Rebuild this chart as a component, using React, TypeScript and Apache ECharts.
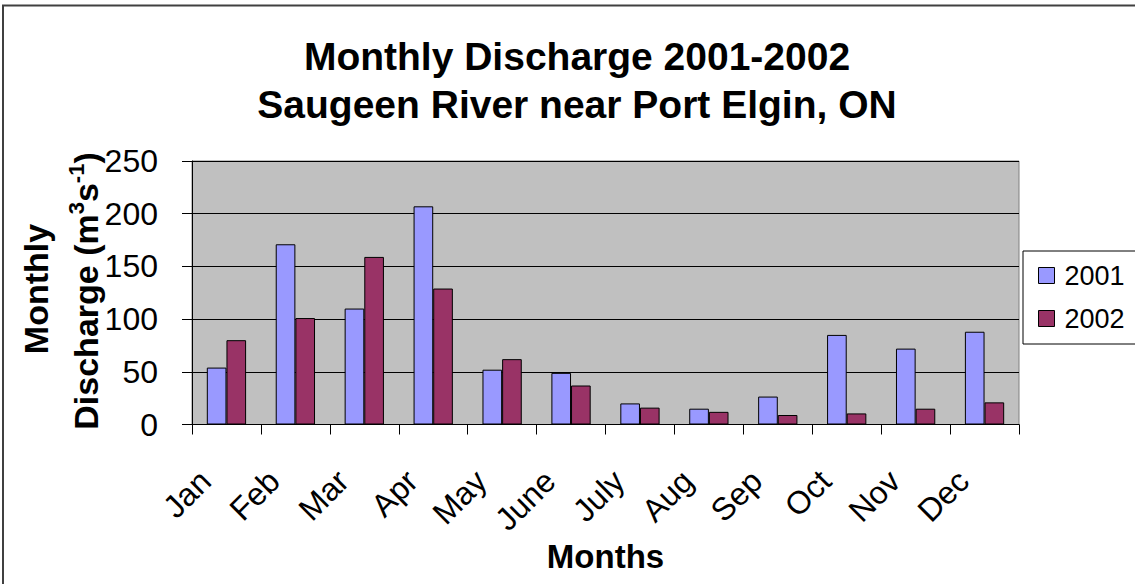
import React, { useEffect, useRef } from "react";
import * as echarts from "echarts";

const months = ["Jan", "Feb", "Mar", "Apr", "May", "June", "July", "Aug", "Sep", "Oct", "Nov", "Dec"];
const discharge2001 = [54, 171, 110, 207, 52, 49, 20, 15, 26.5, 85, 72, 88];
const discharge2002 = [80, 101, 159, 129, 62, 37, 16, 12, 9, 10.5, 15, 21];
const seriesNames = ["2001", "2002"];
const yTicks = { min: 0, max: 250, interval: 50 };

const FONT = "'Liberation Sans', Arial, sans-serif";

export default function App() {
  const ref = useRef<HTMLDivElement>(null);
  useEffect(() => {
    if (!ref.current) return;
    const chart = echarts.init(ref.current, null, { renderer: "svg" });
    chart.setOption({
      animation: false,
      backgroundColor: "#ffffff",
      title: {
        text: "Monthly Discharge 2001-2002\nSaugeen River near Port Elgin, ON",
        left: 577,
        top: 32,
        padding: 0,
        textAlign: "center",
        textStyle: {
          fontFamily: FONT,
          fontWeight: "bold",
          fontSize: 39,
          lineHeight: 48.5,
          color: "#000",
        },
      },
      legend: {
        data: seriesNames,
        orient: "vertical",
        left: 1023,
        top: 251,
        padding: [11, 60, 12, 15],
        itemGap: 16,
        itemWidth: 16,
        itemHeight: 16,
        icon: "rect",
        borderColor: "#000",
        borderWidth: 1,
        backgroundColor: "#fff",
        itemStyle: { borderColor: "#000", borderWidth: 1 },
        textStyle: { fontFamily: FONT, fontSize: 27, color: "#000", padding: [0, 0, 0, 5] },
      },
      grid: {
        left: 192,
        right: 116,
        top: 161,
        bottom: 159.5,
        show: true,
        backgroundColor: "#C0C0C0",
        borderColor: "#808080",
        borderWidth: 1,
      },
      xAxis: {
        type: "category",
        data: months,
        name: "Months",
        nameLocation: "middle",
        nameGap: 115,
        nameTextStyle: { fontFamily: FONT, fontWeight: "bold", fontSize: 33, color: "#000" },
        axisLine: { lineStyle: { color: "#000", width: 1 } },
        axisTick: { show: true, length: 10, lineStyle: { color: "#000" } },
        axisLabel: {
          rotate: 45,
          margin: 30,
          padding: [0, 30, 0, 0],
          fontFamily: FONT,
          fontSize: 32,
          color: "#000",
        },
      },
      yAxis: {
        type: "value",
        min: yTicks.min,
        max: yTicks.max,
        interval: yTicks.interval,
        axisLine: { show: true, lineStyle: { color: "#000", width: 1 } },
        axisTick: { show: true, length: 10, lineStyle: { color: "#000" } },
        axisLabel: { margin: 34, fontFamily: FONT, fontSize: 32, color: "#000" },
        splitLine: { show: true, lineStyle: { color: "#000", width: 1 } },
      },
      series: [
        {
          name: seriesNames[0],
          type: "bar",
          data: discharge2001,
          barGap: "0%",
          barCategoryGap: "43%",
          itemStyle: { color: "#9999FF", borderColor: "#000", borderWidth: 1 },
        },
        {
          name: seriesNames[1],
          type: "bar",
          data: discharge2002,
          barGap: "0%",
          barCategoryGap: "43%",
          itemStyle: { color: "#993366", borderColor: "#000", borderWidth: 1 },
        },
      ],
      graphic: [
        {
          type: "rect",
          shape: { x: 3, y: 5.5, width: 1300, height: 800 },
          style: { fill: "none", stroke: "#404040", lineWidth: 2 },
          silent: true,
          z: 100,
        },
        {
          type: "text",
          x: 36,
          y: 289,
          rotation: Math.PI / 2,
          style: {
            text: "Monthly",
            fontFamily: FONT,
            fontWeight: "bold",
            fontSize: 34,
            fill: "#000",
            align: "center",
            verticalAlign: "middle",
          },
        },
        {
          type: "text",
          x: 84,
          y: 291,
          rotation: Math.PI / 2,
          style: {
            text: "{a|Discharge (m}{s|3}{a|s}{s|-1}{a|)}",
            align: "center",
            verticalAlign: "middle",
            rich: {
              a: { fontFamily: FONT, fontWeight: "bold", fontSize: 34, fill: "#000", lineHeight: 38, verticalAlign: "bottom" },
              s: { fontFamily: FONT, fontWeight: "bold", fontSize: 22, fill: "#000", lineHeight: 22, verticalAlign: "top" },
            },
          },
        },
      ],
    });
    return () => chart.dispose();
  }, []);
  return (
    <div
      ref={ref}
      style={{ position: "fixed", left: 0, top: 0, width: 1135, height: 584 }}
    />
  );
}
